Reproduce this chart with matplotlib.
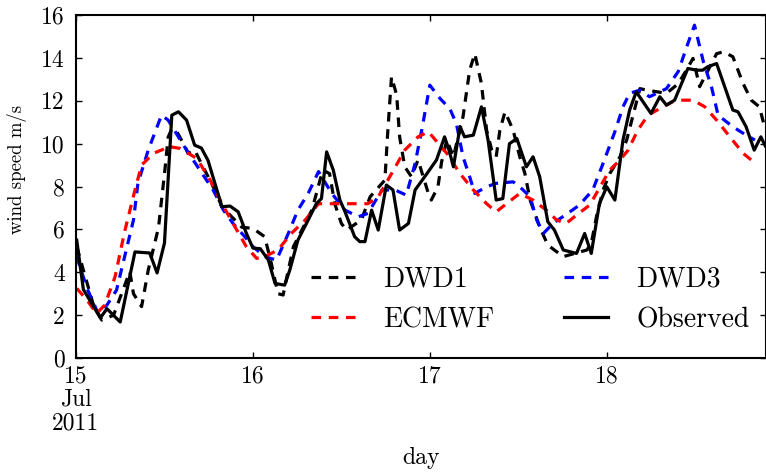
import numpy as np
import pandas as pd
import matplotlib
matplotlib.use('Agg')
import matplotlib.pyplot as plt

plt.rcParams['font.family'] = 'serif'
plt.rcParams['font.serif'] = ['cmr10']
plt.rcParams['mathtext.fontset'] = 'cm'
plt.rcParams['axes.unicode_minus'] = False

### Wind speed series (hours after 15 Jul 2011 00:00, m/s)

obs_hours = [0.1, 1.0, 3.3, 4.2, 6.0, 8.0, 10.0, 11.0, 12.0, 13.0, 13.9, 15.0, 16.1, 17.0, 17.9,
             19.8, 20.9, 22.0, 23.1, 24.0, 25.0, 26.1, 27.0, 28.3, 29.0, 30.1, 31.5, 32.6, 33.3,
             34.0, 34.9, 35.8, 36.5, 37.8, 38.5, 39.2, 40.1, 41.0, 42.1, 43.0, 43.9, 45.1, 46.0,
             47.6, 48.9, 50.0, 50.6, 51.2, 52.1, 52.7, 53.9, 55.0, 55.9, 57.0, 57.9, 58.8, 59.8,
             61.1, 62.0, 62.9, 64.0, 64.9, 66.1, 67.0, 67.9, 69.0, 69.9, 71.0, 72.0, 73.1, 74.2,
             75.1, 76.0, 78.0, 79.2, 80.1, 81.2, 83.0, 84.2, 85.0, 85.7, 86.9, 89.1, 89.8, 90.9,
             92.0, 92.9, 93.5]
obs_speed = [5.5, 3.2, 1.87, 2.3, 1.68, 4.95, 4.9, 3.97, 5.36, 11.33, 11.49, 11.1, 9.93, 9.8, 9.23,
             7.06, 7.09, 6.82, 5.83, 5.13, 5.1, 4.57, 3.48, 3.4, 4.1, 5.5, 6.44, 7.2, 7.44,
             9.62, 8.77, 7.37, 6.82, 5.66, 5.43, 5.43, 6.9, 5.97, 8.07, 7.84, 5.97, 6.28, 7.84,
             8.6, 9.24, 10.32, 9.7, 8.92, 10.8, 10.32, 10.4, 11.72, 10.17, 7.37, 7.44, 10.0, 10.24,
             8.92, 9.39, 8.46, 6.36, 5.97, 5.04, 4.96, 4.88, 5.81, 4.88, 7.2, 7.99, 7.37, 10.17,
             11.57, 12.42, 11.41, 12.19, 11.8, 12.03, 13.51, 13.43, 13.43, 13.59, 13.74, 11.57, 11.49, 10.79,
             9.7, 10.32, 9.9]

dwd1_hours = [0.1, 1.0, 2.3, 3.5, 5.1, 7.3, 7.8, 8.9, 9.8, 11.2, 12.1, 12.5, 13.0, 13.7, 14.8,
              15.2, 16.1, 17.0, 18.6, 19.8, 22.5, 24.0, 25.6, 26.5, 27.4, 28.1, 28.8, 29.5, 32.0,
              33.1, 33.5, 34.4, 35.1, 36.0, 36.7, 38.7, 39.9, 40.3, 41.9, 42.3, 42.8, 43.5, 43.9,
              44.6, 45.5, 46.4, 47.8, 48.2, 49.1, 49.6, 50.3, 51.2, 52.5, 53.4, 54.1, 55.0, 55.7,
              56.4, 57.0, 57.5, 58.2, 59.3, 60.2, 60.9, 61.6, 62.9, 64.0, 65.2, 66.1, 69.3, 69.9,
              70.6, 71.5, 72.4, 73.8, 74.7, 76.5, 77.4, 80.1, 81.7, 82.8, 83.7, 84.6, 86.9, 87.8,
              89.1, 90.5, 91.6, 92.7, 93.4]
dwd1_speed = [5.2, 4.1, 2.55, 1.77, 2.0, 4.03, 3.0, 2.4, 4.1, 6.1, 8.9, 10.3, 10.7, 10.55, 9.86,
              9.55, 9.7, 9.08, 8.0, 7.06, 6.1, 6.05, 5.66, 4.41, 3.0, 2.94, 4.1, 5.2, 6.9,
              8.3, 8.77, 8.6, 7.2, 6.28, 5.97, 6.44, 7.52, 7.68, 8.3, 10.6, 13.12, 12.27, 10.32,
              8.92, 8.46, 9.24, 7.68, 7.37, 7.99, 9.16, 10.17, 9.39, 11.26, 13.43, 14.2, 12.8, 10.63,
              9.7, 9.39, 10.63, 11.49, 10.63, 9.39, 8.6, 7.37, 6.12, 5.27, 4.96, 4.73, 5.04, 5.35,
              6.59, 7.84, 8.6, 9.39, 10.17, 12.57, 12.5, 12.35, 12.8, 13.43, 13.98, 12.66, 14.2, 14.29,
              14.06, 12.8, 12.03, 11.72, 10.8]

dwd3_hours = [0.1, 1.5, 3.0, 4.2, 5.5, 7.8, 8.4, 9.8, 11.6, 12.5, 15.0, 16.8, 18.6, 20.0, 21.3,
              22.9, 24.0, 25.6, 27.2, 28.8, 30.1, 31.5, 32.9, 34.7, 36.5, 38.3, 39.6, 41.5, 43.3,
              44.8, 46.0, 46.9, 48.0, 49.4, 50.7, 51.6, 52.5, 53.4, 54.1, 55.7, 57.0, 59.3, 60.2,
              61.6, 62.5, 63.4, 64.7, 67.0, 68.3, 70.1, 71.5, 73.1, 74.2, 75.1, 76.5, 77.8, 80.1,
              81.7, 83.0, 83.9, 85.1, 86.2, 87.1, 89.1, 90.9, 92.1]
dwd3_speed = [4.73, 3.25, 2.08, 2.47, 3.17, 6.44, 8.15, 9.7, 11.33, 11.1, 9.7, 8.77, 7.84, 6.9, 6.28,
              5.66, 5.2, 4.73, 4.57, 5.81, 6.9, 7.68, 8.7, 7.68, 6.9, 6.59, 6.75, 7.84, 7.84,
              7.6, 9.08, 10.63, 12.73, 12.1, 11.64, 10.94, 9.39, 8.46, 7.68, 7.99, 8.15, 8.22, 7.99,
              7.52, 6.44, 5.81, 6.28, 6.82, 7.14, 7.84, 9.08, 10.56, 11.72, 12.35, 12.5, 12.19, 12.57,
              13.37, 14.67, 15.53, 13.83, 12.66, 11.33, 10.79, 10.4, 10.17]

ecmwf_hours = [0.1, 1.5, 2.8, 3.9, 5.3, 6.6, 8.0, 8.9, 10.5, 12.7, 14.1, 16.4, 18.2, 19.8, 21.3,
               23.1, 24.5, 25.6, 27.4, 29.2, 31.1, 32.9, 35.1, 38.3, 39.6, 41.0, 42.8, 44.6, 46.4,
               47.8, 50.3, 52.1, 53.9, 55.7, 57.0, 58.4, 60.2, 62.0, 63.8, 65.2, 66.5, 67.9, 69.7,
               71.1, 72.4, 73.8, 74.9, 76.2, 77.6, 79.2, 81.0, 82.3, 83.7, 85.3, 86.9, 88.7, 90.5,
               91.6]
ecmwf_speed = [3.25, 2.7, 2.08, 2.47, 3.79, 5.9, 7.84, 9.0, 9.55, 9.86, 9.78, 9.31, 8.3, 7.2, 6.28,
               5.2, 4.65, 4.73, 5.04, 5.81, 6.44, 7.2, 7.2, 7.2, 7.2, 7.52, 8.6, 9.7, 10.32,
               10.56, 9.55, 8.6, 7.84, 7.2, 6.82, 7.2, 7.68, 7.37, 6.9, 6.44, 6.28, 6.67, 7.14,
               7.99, 8.77, 9.24, 9.7, 10.63, 11.33, 11.64, 11.97, 12.03, 12.03, 11.72, 11.1, 10.32, 9.55,
               9.24]

tick_labels = ['15\nJul\n2011', '16', '17', '18']

start = pd.Timestamp('2011-07-15')
def to_time(hours):
    return start + pd.to_timedelta(np.array(hours), unit='h')

fig = plt.figure(figsize=(7.66, 4.72), dpi=100)
ax = fig.add_axes([0.0992, 0.2415, 0.9008, 0.7265])

dash = (0, (3.0, 2.4))
lw = 2.3
l1, = ax.plot(to_time(dwd1_hours), dwd1_speed, color='black', ls=dash, lw=lw, label='DWD1')
l3, = ax.plot(to_time(dwd3_hours), dwd3_speed, color='blue', ls=dash, lw=lw, label='DWD3')
le, = ax.plot(to_time(ecmwf_hours), ecmwf_speed, color='red', ls=dash, lw=lw, label='ECMWF')
lo, = ax.plot(to_time(obs_hours), obs_speed, color='black', ls='-', lw=lw, label='Observed')

ax.set_xlim(start, start + pd.Timedelta(hours=93.6))
ax.set_ylim(0, 16)
ax.set_yticks(np.arange(0, 17, 2))
ax.set_xticks([start + pd.Timedelta(days=d) for d in range(4)])
ax.set_xticklabels(tick_labels, linespacing=1.1)
ax.tick_params(direction='in', top=True, right=True, length=4, width=1, labelsize=17, pad=8)
ax.tick_params(axis='x', pad=5)
for s in ax.spines.values():
    s.set_linewidth(1.5)

ax.set_xlabel('day', fontsize=17, labelpad=9)
ax.set_ylabel('wind speed m/s', fontsize=13.5)
ax.yaxis.set_label_coords(-0.071, 0.551)

ax.legend([l1, le, l3, lo], ['DWD1', 'ECMWF', 'DWD3', 'Observed'], ncol=2, frameon=False,
          fontsize=20, handlelength=1.6, handletextpad=1.0, columnspacing=2.5,
          loc='lower right', bbox_to_anchor=(1.012, 0.0))

fig.savefig('out.png', dpi=100)
